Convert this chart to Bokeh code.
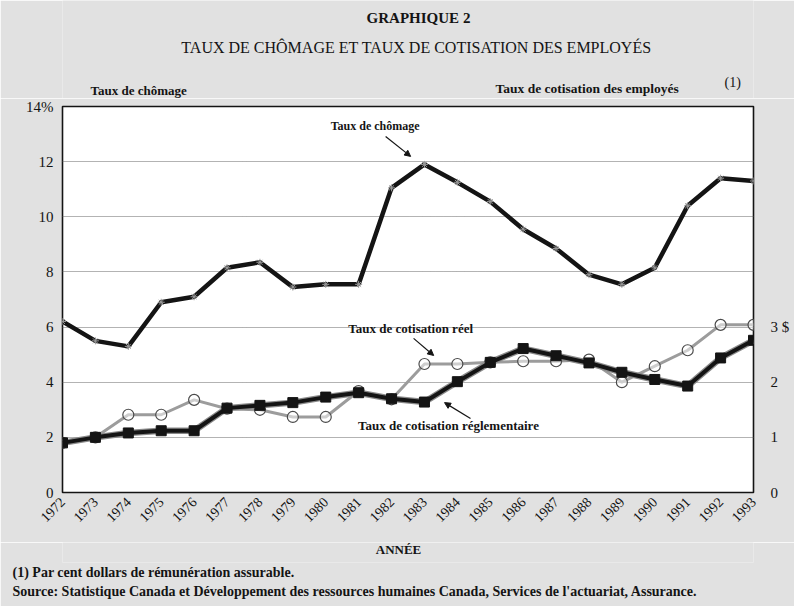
from bokeh.plotting import figure
from bokeh.models import Range1d, LinearAxis, FixedTicker, Label, Arrow, NormalHead, ColumnDataSource, Title
from bokeh.layouts import column
from bokeh.core.properties import value
from bokeh.embed import file_html
from bokeh.resources import INLINE
import math

years = list(range(1972, 1994))
chomage = [6.2, 5.5, 5.3, 6.9, 7.1, 8.15, 8.35, 7.45, 7.55, 7.55, 11.05, 11.9,
           11.25, 10.55, 9.55, 8.85, 7.9, 7.55, 8.15, 10.4, 11.4, 11.3]
cotis_reel = [0.9, 1.0, 1.41, 1.41, 1.68, 1.52, 1.5, 1.37, 1.37, 1.84, 1.69, 2.33,
              2.33, 2.36, 2.38, 2.38, 2.41, 2.0, 2.29, 2.58, 3.04, 3.04]
cotis_regl = [0.9, 1.0, 1.08, 1.12, 1.12, 1.53, 1.58, 1.63, 1.73, 1.81, 1.7, 1.64,
              2.01, 2.36, 2.61, 2.48, 2.35, 2.18, 2.05, 1.93, 2.44, 2.76]
left_ticks = [0, 2, 4, 6, 8, 10, 12, 14]
right_ticks = [0, 1, 2, 3]

title1 = "GRAPHIQUE 2"
title2 = "TAUX DE CHÔMAGE ET TAUX DE COTISATION DES EMPLOYÉS"
left_header = "Taux de chômage"
right_header = "Taux de cotisation des employés"
note_mark = "(1)"
x_title = "ANNÉE"
note1 = "(1)  Par cent dollars de rémunération assurable."
source = "Source:  Statistique Canada et Développement des ressources humaines Canada, Services de l'actuariat, Assurance."

SERIF = "Liberation Serif"
INK = "#141414"
PAPER = "#e1e1e1"
W = 794
FL, FR = 62, 753          # frame left / right on the page (shared by all panels)


def text_fig(h, bottom_border=0):
    f = figure(width=W, height=h, output_backend="svg", toolbar_location=None,
               x_range=Range1d(FL, FR), y_range=Range1d(0, h - bottom_border),
               x_axis_type=None, y_axis_type=None,
               min_border_left=FL, min_border_right=W - FR,
               min_border_top=0, min_border_bottom=bottom_border)
    f.background_fill_color = PAPER
    f.border_fill_color = PAPER
    f.outline_line_color = None
    f.grid.visible = False
    return f


def put(f, x, y, txt, size="13px", bold=True, align="left"):
    f.text(x=[x], y=[y], text=[txt], text_font=value(SERIF), text_font_size=size,
           text_font_style="bold" if bold else "normal", text_color=INK,
           text_align=align, text_baseline="middle")


# ---- top text band (page y 0..98)
top = text_fig(98)
put(top, 418, 98 - 17, title1, size="15px", align="center")
put(top, 416, 98 - 47, title2, size="16px", bold=False, align="center")
put(top, 90, 98 - 90, left_header)
put(top, 495, 98 - 88, right_header, size="13.5px")
put(top, 724, 98 - 82, note_mark, size="14px", bold=False)

# ---- main chart
p = figure(width=W, height=444, output_backend="svg", toolbar_location=None,
           x_range=Range1d(1972, 1993), y_range=Range1d(0, 14),
           min_border_left=FL, min_border_right=W - FR, min_border_top=8,
           min_border_bottom=50)
p.extra_y_ranges = {"dollars": Range1d(0, 7)}
p.border_fill_color = PAPER
p.background_fill_color = "white"
p.outline_line_color = INK
p.outline_line_width = 1.6

p.xaxis.ticker = FixedTicker(ticks=years)
p.xaxis.major_label_orientation = math.pi / 4
p.xaxis.major_label_text_font = SERIF
p.xaxis.major_label_text_font_size = "14px"
p.xaxis.major_label_text_color = INK
p.xaxis.major_label_standoff = 7
p.yaxis.ticker = FixedTicker(ticks=left_ticks)
p.yaxis.major_label_overrides = {14: "14%"}
p.yaxis.major_label_text_font = SERIF
p.yaxis.major_label_text_font_size = "15px"
p.yaxis.major_label_text_color = INK
p.yaxis.major_label_standoff = 9

rax = LinearAxis(y_range_name="dollars", ticker=FixedTicker(ticks=right_ticks),
                 major_label_overrides={3: "3 $"})
rax.major_label_text_font = SERIF
rax.major_label_text_font_size = "15px"
rax.major_label_text_color = INK
rax.major_label_standoff = 17
rax.major_label_text_baseline = "bottom"
p.add_layout(rax, "right")

for ax in (p.xaxis[0], p.yaxis[0], rax):
    ax.axis_line_color = None
    ax.major_tick_line_color = None
    ax.minor_tick_line_color = None
    ax.major_tick_out = 0
    ax.major_tick_in = 0
    ax.minor_tick_out = 0

p.xgrid.grid_line_color = None
p.ygrid.ticker = FixedTicker(ticks=[2, 4, 6, 8, 10, 12])
p.ygrid.grid_line_color = "#666666"
p.ygrid.grid_line_dash = "1 1"
p.ygrid.grid_line_width = 1

src = ColumnDataSource(dict(year=years, chomage=chomage, reel=cotis_reel, regl=cotis_regl))

p.line("year", "chomage", source=src, line_color=INK, line_width=4.5)
p.scatter("year", "chomage", source=src, marker="asterisk", size=7,
          line_color="#9a9a9a", line_width=1)

p.line("year", "reel", source=src, y_range_name="dollars", line_color="#9c9c9c", line_width=3)
p.scatter("year", "reel", source=src, y_range_name="dollars", marker="circle", size=11,
          line_color="#4a4a4a", line_width=1.2, fill_color="white", fill_alpha=0.5)

p.line("year", "regl", source=src, y_range_name="dollars", line_color="#8a8a8a", line_width=6.5)
p.line("year", "regl", source=src, y_range_name="dollars", line_color=INK, line_width=4)
p.scatter("year", "regl", source=src, y_range_name="dollars", marker="square", size=10,
          line_color=INK, fill_color=INK)


def lab(text, x, y, size="13px"):
    p.add_layout(Label(x=x, y=y, text=text, text_font=SERIF, text_font_size=size,
                       text_font_style="bold", text_color=INK,
                       text_align="center", text_baseline="middle"))


lab("Taux de chômage", 1981.5, 13.31, size="12px")
lab("Taux de cotisation réel", 1982.58, 5.95)
lab("Taux de cotisation réglementaire", 1983.73, 2.43)

for (x0, y0, x1, y1) in [(1981.82, 12.91, 1982.58, 12.19),
                         (1982.67, 5.59, 1983.28, 4.97),
                         (1984.40, 2.68, 1983.61, 3.26)]:
    p.add_layout(Arrow(x_start=x0, y_start=y0, x_end=x1, y_end=y1,
                       line_color=INK, line_width=1.2,
                       end=NormalHead(size=6, line_color=INK, fill_color=INK, line_width=1)))

# ---- bottom text band (page y 542..606)
bot = text_fig(64, bottom_border=44)
for t in (note1, source):
    bot.add_layout(Title(text=t, align="left", offset=12 - FL, standoff=2,
                         text_font=SERIF, text_font_size="14px", text_font_style="bold",
                         text_color=INK, vertical_align="middle"), "below")
put(bot, 398, 20 - 7, x_title, align="center")

layout = column(top, p, bot, spacing=0)
open("out.html", "w").write(file_html(layout, INLINE))
